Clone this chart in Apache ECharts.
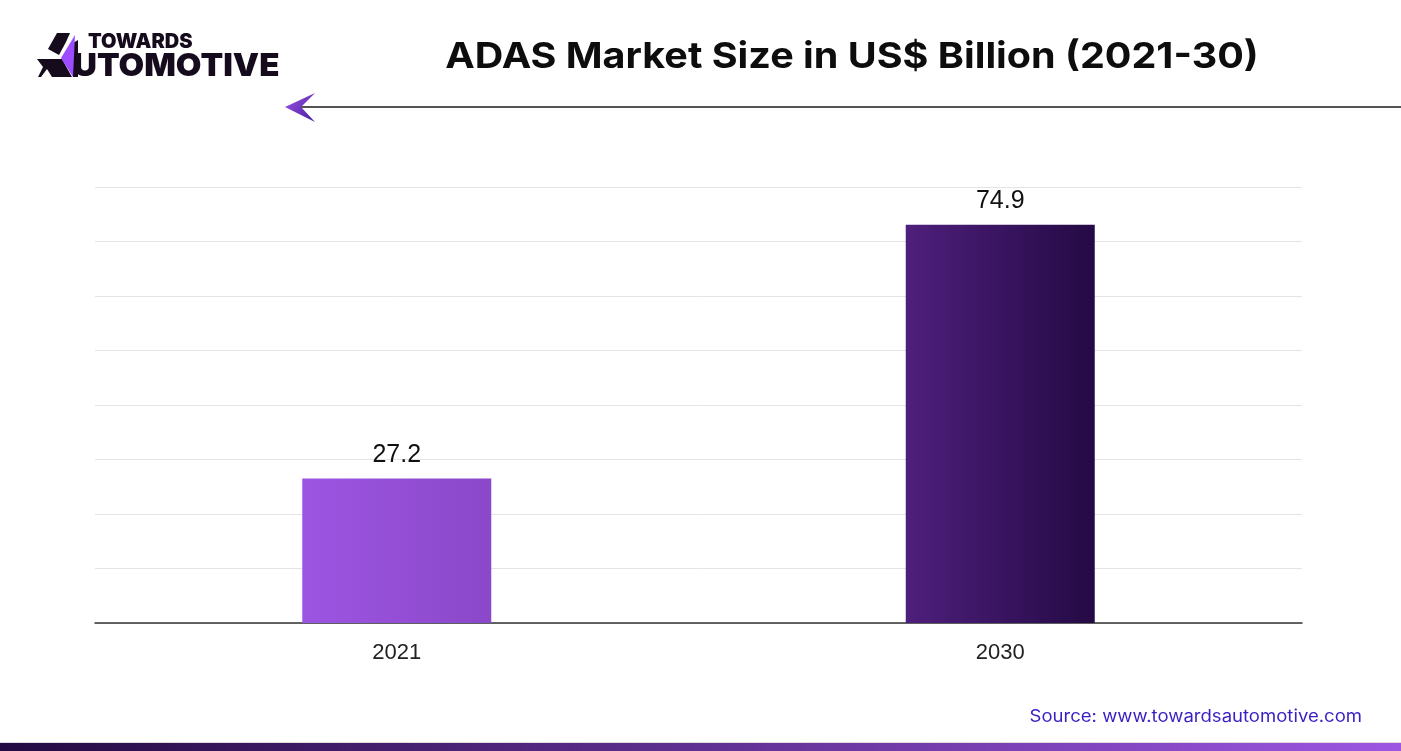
<!DOCTYPE html>
<html>
<head>
<meta charset="utf-8">
<script src="https://cdn.jsdelivr.net/npm/echarts@6/dist/echarts.min.js"></script>
<style>
html,body{margin:0;padding:0;background:#fff;}
#c{width:1401px;height:751px;}
</style>
</head>
<body>
<div id="c"></div>
<script>
var categories = ['2021', '2030'];
var values = [27.2, 74.9];
var titleText = 'ADAS Market Size in US$ Billion (2021-30)';
var sourceText = 'Source: www.towardsautomotive.com';

var barGradients = [
  ['#9c55e2', '#8b48c9'],
  ['#4e1f7c', '#240a44']
];

var chart = echarts.init(document.getElementById('c'));
var data = values.map(function (v, i) {
  return {
    value: v,
    itemStyle: {
      color: new echarts.graphic.LinearGradient(0, 0, 1, 0, [
        { offset: 0, color: barGradients[i][0] },
        { offset: 1, color: barGradients[i][1] }
      ])
    }
  };
});

chart.setOption({
  animation: false,
  backgroundColor: '#ffffff',
  grid: { left: 95, right: 99, top: 187, bottom: 128 },
  xAxis: {
    type: 'category',
    data: categories,
    axisLine: { lineStyle: { color: '#333333', width: 1.5 } },
    axisTick: { show: false },
    axisLabel: { fontFamily: 'Liberation Sans', fontSize: 22, color: '#222222', margin: 19 }
  },
  yAxis: {
    type: 'value',
    min: 0,
    max: 82,
    interval: 10.25,
    axisLine: { show: false },
    axisTick: { show: false },
    axisLabel: { show: false },
    splitLine: { lineStyle: { color: '#e4e4e4', width: 1 } }
  },
  series: [{
    type: 'bar',
    data: data,
    barWidth: 189,
    label: {
      show: true,
      position: 'top',
      distance: 11,
      fontFamily: 'Liberation Sans',
      fontSize: 25,
      color: '#111111'
    }
  }],
  graphic: [
    // title
    { type: 'text', x: 852, y: 57, scaleX: 1.098,
      style: { text: titleText, fontFamily: 'Inter', fontWeight: 700, fontSize: 36, fill: '#0d0d0d', textAlign: 'center', textVerticalAlign: 'middle' } },
    // logo mark
    { type: 'polygon', shape: { points: [[57,33],[70,33],[66,42],[59,55],[48,49]] }, style: { fill: '#150b1c' } },
    { type: 'polygon', shape: { points: [[37,59],[62,59],[72,77],[52,77],[47,69],[41,77],[38,77],[43,67]] }, style: { fill: '#150b1c' } },
    { type: 'polygon', shape: { points: [[73,43],[78,40],[78,77],[73,77]] }, style: { fill: '#150b1c' } },
    { type: 'polygon', shape: { points: [[75,35],[61,58],[73,77]] }, style: { fill: '#9b4dff' } },
    { type: 'text', left: 88, top: 32, style: { text: 'TOWARDS', fontFamily: 'Inter', fontWeight: 900, fontSize: 20, fill: '#150b1c' } },
    { type: 'text', x: 73, y: 50, scaleX: 1.035, style: { text: 'UTOMOTIVE', fontFamily: 'Inter', fontWeight: 900, fontSize: 32, fill: '#150b1c' } },
    // arrow
    { type: 'line', shape: { x1: 300, y1: 107, x2: 1401, y2: 107 }, style: { stroke: '#1a1a1a', lineWidth: 1.5 } },
    { type: 'polygon', shape: { points: [[285,107],[315,93],[301,107],[315,122]] },
      style: { fill: new echarts.graphic.LinearGradient(0, 0, 1, 1, [{ offset: 0, color: '#9b55e8' }, { offset: 1, color: '#4a1d9a' }]) } },
    // source
    { type: 'text', x: 1362, y: 717, scaleX: 1.09,
      style: { text: sourceText, fontFamily: 'Inter', fontSize: 17, fill: '#3b1fc4', textAlign: 'right', textVerticalAlign: 'middle' } },
    // bottom bar
    { type: 'rect', shape: { x: 0, y: 742, width: 1401, height: 1 }, style: { fill: '#dddddd' } },
    { type: 'rect', shape: { x: 0, y: 743, width: 1401, height: 8 },
      style: { fill: new echarts.graphic.LinearGradient(0, 0, 1, 0, [{ offset: 0, color: '#230a42' }, { offset: 1, color: '#9d56e2' }]) } }
  ]
});
</script>
</body>
</html>
